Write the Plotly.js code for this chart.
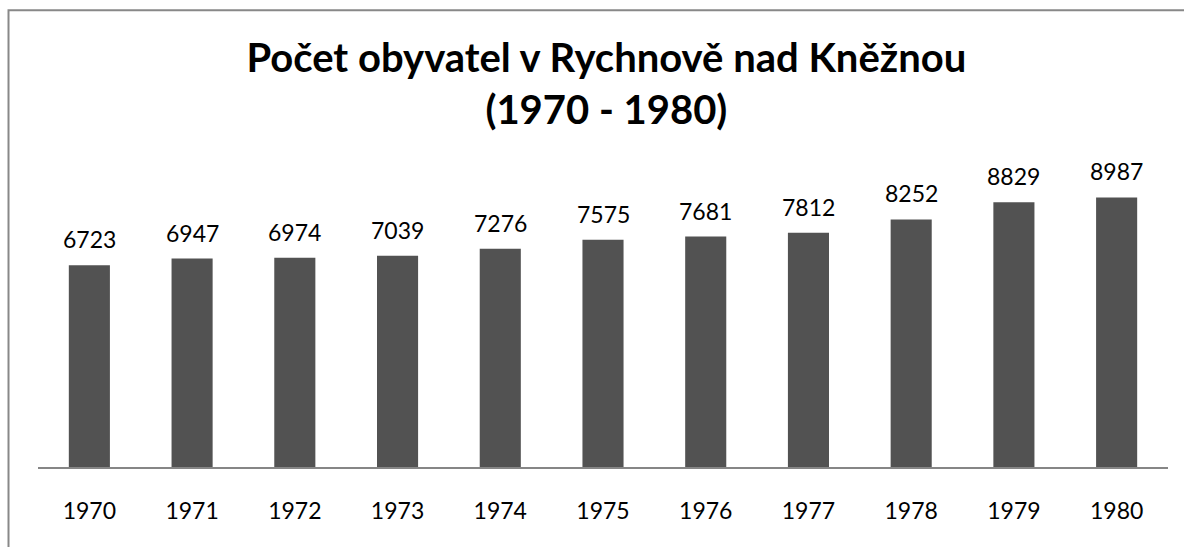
<!DOCTYPE html>
<html>
<head>
<meta charset="utf-8">
<script src="https://cdn.plot.ly/plotly-3.0.1.min.js"></script>
<style>
html,body{margin:0;padding:0;background:#fff;}
#chart{width:1184px;height:547px;}
</style>
</head>
<body>
<div id="chart"></div>
<script>
const years = ["1970","1971","1972","1973","1974","1975","1976","1977","1978","1979","1980"];
const population = [6723, 6947, 6974, 7039, 7276, 7575, 7681, 7812, 8252, 8829, 8987];
const chartTitle = "Počet obyvatel v Rychnově nad Kněžnou<br>(1970 - 1980)";

const FONT = "Lato, 'Open Sans', sans-serif";

const trace = {
  type: "bar",
  x: years,
  y: population,
  marker: {color: "#525252", line: {width: 0}},
  hoverinfo: "x+y"
};

const annotations = years.map((yr, i) => ({
  x: i, y: population[i], xref: "x", yref: "y",
  text: String(population[i]), showarrow: false,
  yanchor: "bottom", yshift: 10,
  font: {family: FONT, size: 23, color: "#000"}
}));

const layout = {
  width: 1184, height: 547,
  margin: {l: 38, r: 16, t: 167, b: 80},
  paper_bgcolor: "#fff", plot_bgcolor: "#fff",
  showlegend: false,
  bargap: 0.6,
  title: {
    text: "<b>" + chartTitle + "</b>",
    x: 0.503, xref: "paper", xanchor: "center",
    y: 0.868, yref: "container", yanchor: "top",
    font: {family: FONT, size: 40, color: "#000"}
  },
  xaxis: {
    type: "category", range: [-0.5, years.length - 0.5], autorange: false,
    showline: true, linecolor: "#868686", linewidth: 2,
    ticks: "", showgrid: false, zeroline: false,
    ticklabelstandoff: 22,
    tickfont: {family: FONT, size: 23, color: "#000"}
  },
  yaxis: {
    range: [0, 10000], autorange: false, visible: false, showgrid: false, zeroline: false
  },
  annotations: annotations,
  shapes: [{
    type: "rect", xref: "paper", yref: "paper",
    x0: -0.0261, x1: 1.03, y0: -0.5, y1: 1.5227,
    line: {color: "#888888", width: 2}, fillcolor: "rgba(0,0,0,0)", layer: "below"
  }]
};

Plotly.newPlot("chart", [trace], layout, {displayModeBar: false, staticPlot: true});
</script>
</body>
</html>
